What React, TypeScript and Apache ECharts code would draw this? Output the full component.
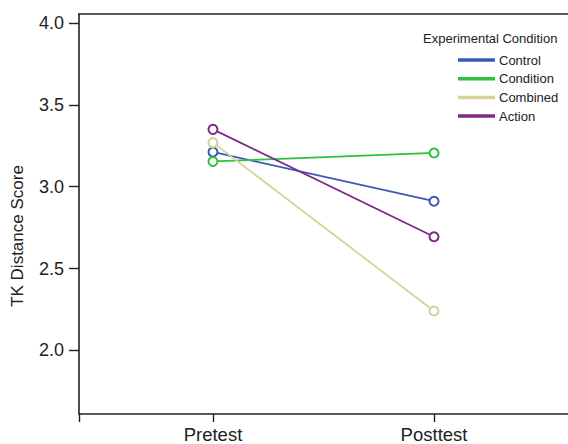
import React, { useEffect, useRef } from "react";
import * as echarts from "echarts";

const timePoints = ["Pretest", "Posttest"];
const timeX = [1, 2];
const seriesNames = ["Control", "Condition", "Combined", "Action"];
const controlValues = [3.212, 2.911];
const conditionValues = [3.154, 3.206];
const combinedValues = [3.269, 2.24];
const actionValues = [3.35, 2.694];
const seriesColors = ["#3b58b8", "#2fc23c", "#d6d29a", "#7d2b85"];
const yTicks = [2.0, 2.5, 3.0, 3.5, 4.0];

const FONT = "'Liberation Sans', Arial, Helvetica, sans-serif";

export default function App() {
  const ref = useRef<HTMLDivElement>(null);
  useEffect(() => {
    document.body.style.margin = "0";
    if (!ref.current) return;
    const chart = echarts.init(ref.current, null, { renderer: "svg" });
    const allValues = [controlValues, conditionValues, combinedValues, actionValues];
    const series = seriesNames.map((name, i) => ({
      name,
      type: "line",
      data: timeX.map((x, j) => [x, allValues[i][j]]),
      symbol: "emptyCircle",
      symbolSize: 9,
      lineStyle: { color: seriesColors[i], width: 1.8 },
      itemStyle: { color: seriesColors[i], borderColor: seriesColors[i], borderWidth: 1.6 },
      z: 2 + (i === 3 ? 1 : 0),
    }));
    chart.setOption({
      animation: false,
      backgroundColor: "#ffffff",
      title: {
        text: "Experimental Condition",
        left: 418,
        top: 27,
        textStyle: { fontFamily: FONT, fontSize: 13, fontWeight: "normal", color: "#222" },
      },
      legend: {
        orient: "vertical",
        left: 453,
        top: 48,
        icon: "rect",
        itemWidth: 35,
        itemHeight: 1.5,
        itemGap: 4.7,
        data: seriesNames,
        textStyle: { fontFamily: FONT, fontSize: 13, color: "#222", lineHeight: 14 },
      },
      grid: { left: 79, top: 14, right: 0, bottom: 28 },
      xAxis: [
        {
          type: "value",
          min: 0.394,
          max: 2.606,
          splitLine: { show: false },
          axisLine: { show: true, onZero: false, lineStyle: { color: "#222", width: 1.6 } },
          axisTick: { show: true, length: 8, customValues: [0.394, 1, 2], lineStyle: { color: "#222", width: 1.4 } },
          axisLabel: {
            customValues: timeX,
            formatter: (v: number) => timePoints[timeX.indexOf(Math.round(v))] ?? "",
            fontFamily: FONT,
            fontSize: 18.5,
            color: "#222",
            margin: 11,
          },
        },
        {
          type: "value",
          position: "top",
          min: 0.394,
          max: 2.606,
          splitLine: { show: false },
          axisLine: { show: true, onZero: false, lineStyle: { color: "#222", width: 1.6 } },
          axisTick: { show: false },
          axisLabel: { show: false },
        },
      ],
      yAxis: {
        type: "value",
        min: 1.611,
        max: 4.055,
        splitLine: { show: false },
        axisLine: { show: true, onZero: false, lineStyle: { color: "#222", width: 1.6 } },
        axisTick: { show: true, length: 10, customValues: yTicks, lineStyle: { color: "#222", width: 1.4 } },
        axisLabel: {
          customValues: yTicks,
          formatter: (v: number) => v.toFixed(1),
          fontFamily: FONT,
          fontSize: 18,
          color: "#222",
          margin: 15,
        },
      },
      graphic: [
        {
          type: "text",
          x: 17,
          y: 236,
          rotation: Math.PI / 2,
          style: {
            text: "TK Distance Score",
            fontFamily: FONT,
            fontSize: 17,
            fill: "#222",
            align: "center",
            verticalAlign: "middle",
          },
        },
      ],
      series,
    });
    return () => chart.dispose();
  }, []);
  return <div ref={ref} style={{ width: 568, height: 444 }} />;
}
